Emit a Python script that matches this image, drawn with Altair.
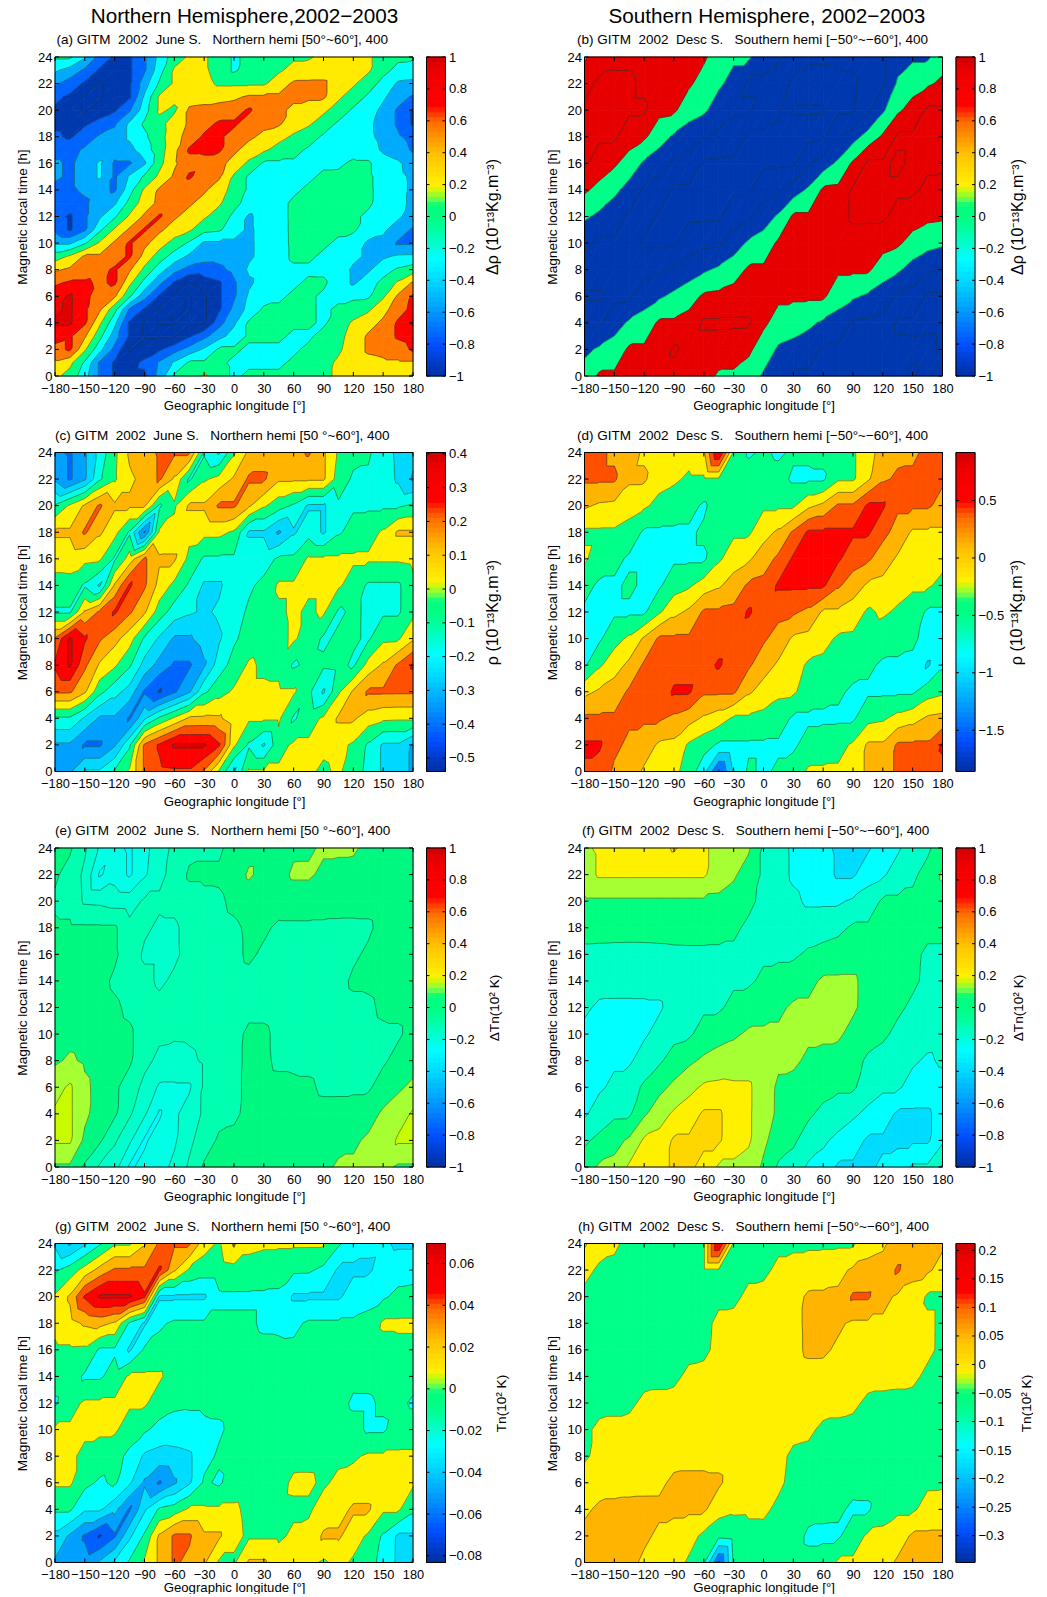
import altair as alt
import numpy as np
import pandas as pd

alt.data_transformers.disable_max_rows()

LON_TICKS = [-180, -150, -120, -90, -60, -30, 0, 30, 60, 90, 120, 150, 180]
LT_TICKS = list(range(0, 25, 2))
FONT = "Liberation Sans"

# Contour-band index read at each grid node (base-36 digit): rows run from 24 h down to 0 h,
# columns from -180 to 180 degrees in 15 degree steps.
GRID_A = ["66532 23567 76566 66677 77666", "54322 23577 76566 67777 77655", "43212 24677 76666 78887 76544",
          "32112 25777 77788 88887 65543", "22122 35768 88898 87776 55432", "22233 56678 89988 87765 55432",
          "32344 55678 99887 76655 55443", "33444 45679 99877 66555 55443", "43453 34678 88765 55555 66554",
          "43453 56789 88655 55566 66554", "33443 57888 87655 55666 66554", "33344 67888 77655 56666 66554",
          "32345 78987 76545 56666 65554", "32357 89877 66545 56666 65543", "44578 98765 44445 56665 54433",
          "67888 97654 44445 56655 54455", "78889 86543 33455 55555 44566", "89989 75421 22345 55665 45678",
          "9a988 64210 12355 56655 55689", "9a986 32110 12456 66656 66789", "aa975 21001 13466 66656 7789a",
          "99864 21112 34566 65566 78899", "89753 12234 56655 55666 78889", "77532 23456 66555 56667 77777",
          "76532 22466 76566 66667 77776"]
GRID_B = ["45555 55554 44332 22222 23334", "56665 55544 32221 11112 24445", "66666 55443 33220 00112 34566",
          "66655 43332 21111 11234 56666", "65543 32211 11111 23456 65666", "54432 21111 11223 45566 66655",
          "43322 11111 22345 55566 65555", "32221 11222 34455 55555 55444", "22222 23334 45555 55555 44332",
          "11223 34455 55555 55443 32211", "22344 55566 66544 43322 21111", "34455 56555 55433 32222 22221",
          "45555 55554 44332 22222 22124"]
GRID_C = ["21245 77888 43577 77875 55433", "21245 67864 56788 77775 44432", "56787 77457 78876 54334 44445",
          "77876 41666 66533 23434 55677", "66664 68775 44444 55666 66666", "55437 98654 33445 66666 54445",
          "44789 87544 34455 56564 54445", "8a987 64322 33455 56545 54556", "9a866 53211 24565 54555 46789",
          "88754 31012 45666 66535 78888", "44322 13567 77666 64567 76666", "22112 489aa a9643 56666 54332",
          "22445 68888 75366 66656 54332"]
GRID_D = ["77665 55559 43434 44445 66677", "77766 55444 44443 33445 67777", "65555 44434 44444 56778 87776",
          "44443 33344 44567 88888 76555", "54433 33334 55678 88877 65555", "43343 34455 67788 88765 55554",
          "33333 45677 78777 65554 54433", "33456 77777 77765 55444 44433", "34567 77778 77655 44444 33323",
          "56677 78877 76555 44433 33344", "77777 76655 44443 33334 45566", "88766 55443 33333 44456 67778",
          "77665 55430 34344 55556 67777"]
GRID_E = ["44311 01233 33444 44455 54444", "43201 01234 44454 45544 44444", "33222 23333 33444 44444 44444",
          "44444 33223 33344 33333 33444", "44444 32223 33343 33333 34444", "44443 33233 33333 33333 44444",
          "44444 33333 33333 33333 33444", "44444 43333 33344 33333 33334", "45444 43222 33344 33333 33344",
          "56544 32111 33344 44433 33445", "66544 32012 33344 44444 44556", "66443 20112 34444 44444 45566",
          "44322 01123 44444 44445 55544"]
GRID_F = ["45555 56554 44221 11000 11223", "45555 55554 43221 11001 12234", "33333 33333 33222 11122 33333",
          "33333 33333 32222 22233 33333", "22222 22222 22222 33333 33322", "22222 22222 22333 34443 33322",
          "21111 12222 33334 44443 33222", "11111 22233 34444 44433 32222", "11112 23344 44444 33332 22212",
          "11223 34455 55433 33332 22111", "12223 45566 55433 32221 10001", "23345 56666 55433 22110 00001",
          "34455 56654 44322 11000 11223"]
GRID_G = ["32345 56888 65766 66665 44433", "45678 88975 55555 55543 33444", "679aa a9333 34444 43333 44455",
          "66776 43455 55554 44555 55666", "55544 35555 55555 55555 55555", "55445 66655 55555 55555 55555",
          "45666 66555 55555 55555 44554", "66666 55444 44555 55555 54455", "66555 43333 45555 55555 56666",
          "66545 42123 54555 56656 66666", "55443 13556 66655 55566 77665", "32101 35788 77655 56677 65433",
          "22234 56787 75577 66656 55432"]
GRID_H = ["65544 44449 44444 44445 56666", "54444 44444 44455 55566 67665", "44444 44444 45555 66677 65544",
          "44444 44445 55555 66655 55554", "44444 44445 55555 66555 55554", "44444 44555 55555 55555 55544",
          "44445 55555 55555 55554 44444", "45555 55555 55555 54444 44444", "45555 55555 55554 44444 44444",
          "55555 56666 55554 44444 44444", "56666 66665 55544 44433 44455", "66666 55544 44444 33345 55666",
          "66665 55440 44444 44555 56666"]

# Fill colour of each band, by digit.
JET_ABCD = ["#0038ad", "#0064ff", "#00a0ff", "#00d8ff", "#00ffe8", "#00ff88", "#fff000", "#ffb400", "#ff5000", "#ff0000", "#e00000"]
PAL_A = ["#0038ad", "#0038ad", "#0038ad", "#0064ff", "#00aaff", "#00ffff", "#00ff88", "#ffea00", "#ff7800", "#ff0000", "#e00000"]
PAL_B = ["#0038b0", "#0038b0", "#0038b0", "#0038b0", "#00ff88", "#e60000", "#e60000", "#e60000"]
PAL_C = JET_ABCD
PAL_D = ["#0030b0", "#0078ff", "#00ccff", "#00ffff", "#00ff88", "#fff000", "#ffb400", "#ff5000", "#ff0000", "#e00000"]
PAL_E = ["#00f8ff", "#00ffe6", "#00ffcc", "#00ffb0", "#00f880", "#a5ff32", "#c8fa00"]
PAL_F = ["#00dcff", "#00ffff", "#00ffc8", "#00ff80", "#a5ff32", "#fff000", "#ffd700"]
PAL_G = ["#0038ad", "#0060ff", "#00a0ff", "#00dcff", "#00ffff", "#00ff88", "#fff000", "#ffb400", "#ff5000", "#ff0000", "#e60000"]
PAL_H = PAL_D

# Colour bar
BAR_STOPS = [0, .06, .1, .2, .3, .37, .45, .5, .535, .56, .58, .6, .7, .8, .83, .85, .95, 1]
BAR_COLORS = ["#0030a0", "#0040d8", "#0050ff", "#0096ff", "#00d8ff", "#00ffff", "#00ffaa", "#00ff80", "#00ff80",
              "#80ff40", "#c0fa10", "#fff000", "#ffc000", "#ff6800", "#ff2a00", "#ff0000", "#f00000", "#d00000"]
TICKS_UNIT = [-1, -.8, -.6, -.4, -.2, 0, .2, .4, .6, .8, 1]
TICKS_C = [-.5, -.4, -.3, -.2, -.1, 0, .1, .2, .3, .4]
TICKS_D = [-1.5, -1, -.5, 0, .5]
TICKS_G = [-.08, -.06, -.04, -.02, 0, .02, .04, .06]
TICKS_H = [-.3, -.25, -.2, -.15, -.1, -.05, 0, .05, .1, .15, .2]

W, H, BW = 358, 319, 19


def hexrgb(c):
    return [int(c[i:i + 2], 16) for i in (1, 3, 5)]


def bar_records(lo, hi, n=64):
    stops = np.array(BAR_STOPS)
    rgb = np.array([hexrgb(c) for c in BAR_COLORS])
    recs = []
    for k in range(n):
        t = (k + .5) / n
        col = [int(round(np.interp(t, stops, rgb[:, m]))) for m in range(3)]
        recs.append(dict(v=lo + (hi - lo) * k / n, v2=lo + (hi - lo) * (k + 1) / n,
                         c="#%02x%02x%02x" % tuple(col)))
    return pd.DataFrame(recs)


def clip(poly, level, keep_above):
    out = []
    for a, b in zip(poly, poly[1:] + poly[:1]):
        ina = a[2] >= level if keep_above else a[2] <= level
        inb = b[2] >= level if keep_above else b[2] <= level
        if ina:
            out.append(a)
        if ina != inb:
            t = (level - a[2]) / (b[2] - a[2])
            out.append((a[0] + t * (b[0] - a[0]), a[1] + t * (b[1] - a[1]), level))
    return out


def settle(band):
    """Place every node inside its read band so that band edges run straight between nodes."""
    v = band + .5
    for _ in range(3):
        p = np.pad(v, 1, mode="edge")
        e = p[:-2, 1:-1] + p[2:, 1:-1] + p[1:-1, :-2] + p[1:-1, 2:]
        c = p[:-2, :-2] + p[:-2, 2:] + p[2:, :-2] + p[2:, 2:]
        v = .2 * v + .13 * e + .07 * c
        v = np.clip(v, band + .15, band + .85)
    return v


def contours(rows, palette):
    rows = [r.replace(" ", "") for r in rows]
    assert all(len(r) == 25 for r in rows), [len(r) for r in rows]
    band = np.array([[int(ch, 36) for ch in r] for r in rows], dtype=float)
    val = settle(band)
    lons = np.arange(-180, 181, 15.0)
    hrs = np.linspace(24, 0, len(rows))
    groups = []
    start = 0
    for k in range(1, len(palette) + 1):
        if k == len(palette) or palette[k] != palette[start]:
            groups.append((start, k, palette[start]))
            start = k
    cells, areas, segs = [], [], []
    pid = 0
    for j in range(len(rows) - 1):
        for i in range(24):
            nw = (lons[i], hrs[j], val[j, i])
            ne = (lons[i + 1], hrs[j], val[j, i + 1])
            sw = (lons[i], hrs[j + 1], val[j + 1, i])
            se = (lons[i + 1], hrs[j + 1], val[j + 1, i + 1])
            vs = [nw[2], ne[2], sw[2], se[2]]
            if len({int(v) for v in vs}) == 1:
                cells.append(dict(x=lons[i], x2=lons[i + 1], y=hrs[j + 1], y2=hrs[j], c=palette[int(vs[0])]))
                continue
            for tri in ([sw, ne, nw], [sw, se, ne]):
                lo, hi = min(p[2] for p in tri), max(p[2] for p in tri)
                for a, b, col in groups:
                    if b <= lo or a >= hi:
                        continue
                    poly = clip(clip(tri, a, True), b, False)
                    if len(poly) < 3:
                        continue
                    xs = sorted({round(p[0], 3) for p in poly})
                    if len(xs) < 2:
                        continue
                    pid += 1
                    for x in xs:
                        ys = []
                        for p, q in zip(poly, poly[1:] + poly[:1]):
                            x0, x1 = min(p[0], q[0]), max(p[0], q[0])
                            if x0 - 1e-3 <= x <= x1 + 1e-3:
                                if abs(q[0] - p[0]) < 1e-3:
                                    ys += [p[1], q[1]]
                                else:
                                    ys.append(p[1] + (x - p[0]) / (q[0] - p[0]) * (q[1] - p[1]))
                        areas.append(dict(id=pid, x=x, y=round(min(ys), 3), y2=round(max(ys), 3), c=col))
                for lev in range(int(np.ceil(lo)), int(np.floor(hi)) + 1):
                    pts = []
                    for p, q in zip(tri, tri[1:] + tri[:1]):
                        if (p[2] - lev) * (q[2] - lev) < 0:
                            t = (lev - p[2]) / (q[2] - p[2])
                            pts.append((p[0] + t * (q[0] - p[0]), p[1] + t * (q[1] - p[1])))
                    if len(pts) == 2:
                        segs.append(dict(x=round(pts[0][0], 3), y=round(pts[0][1], 3),
                                         x2=round(pts[1][0], 3), y2=round(pts[1][1], 3)))
    return pd.DataFrame(cells), pd.DataFrame(areas), pd.DataFrame(segs)


XS = alt.Scale(domain=[-180, 180], nice=False, zero=False)
YS = alt.Scale(domain=[0, 24], nice=False, zero=False)
frame_df = pd.DataFrame({"a": [0]})


def frame(w, h):
    return alt.Chart(frame_df).mark_rect(filled=False, stroke="black", strokeWidth=1).encode(
        x=alt.value(0), x2=alt.value(w), y=alt.value(0), y2=alt.value(h))


def panel(rows, palette, title, dx, x_title_pad, heading=None):
    cells, areas, segs = contours(rows, palette)
    xaxis = alt.Axis(values=LON_TICKS, format="d", title="Geographic longitude [°]", tickSize=0, domain=False,
                     grid=False, labelOverlap=False, labelFlush=False, labelBound=False, labelPadding=6,
                     titlePadding=x_title_pad, labelFontSize=12.8, titleFontSize=13.2, labelFont=FONT, titleFont=FONT,
                     titleFontWeight="normal", labelColor="black", titleColor="black")
    yaxis = alt.Axis(values=LT_TICKS, format="d", title="Magnetic local time [h]", tickSize=0, domain=False,
                     grid=False, labelOverlap=False, labelFlush=False, labelBound=False, labelPadding=3,
                     titlePadding=8, labelFontSize=13, titleFontSize=13.6, labelFont=FONT, titleFont=FONT,
                     titleFontWeight="normal", labelColor="black", titleColor="black")
    xq = lambda f="x": alt.X(f + ":Q", scale=XS, axis=xaxis)
    yq = lambda f="y": alt.Y(f + ":Q", scale=YS, axis=yaxis)
    base = alt.Chart(cells).mark_rect(strokeWidth=.8).encode(
        x=xq(), x2="x2:Q", y=yq(), y2="y2:Q",
        color=alt.Color("c:N", scale=None), stroke=alt.Stroke("c:N", scale=None))
    fill = alt.Chart(areas).mark_area(strokeWidth=.8, orient="vertical").encode(
        x=xq(), y=yq(), y2="y2:Q", detail="id:N",
        color=alt.Color("c:N", scale=None), stroke=alt.Stroke("c:N", scale=None))
    lines = alt.Chart(segs).mark_rule(color="#1a3a30", strokeWidth=.6, opacity=.85).encode(
        x=xq(), x2="x2:Q", y=yq(), y2="y2:Q")
    lon_df = pd.DataFrame({"x": LON_TICKS})
    lt_df = pd.DataFrame({"y": LT_TICKS})
    ticks = [
        alt.Chart(lon_df).mark_rule(color="black").encode(x=xq(), y=alt.value(H), y2=alt.value(H - 4)),
        alt.Chart(lon_df).mark_rule(color="black").encode(x=xq(), y=alt.value(0), y2=alt.value(4)),
        alt.Chart(lt_df).mark_rule(color="black").encode(y=yq(), x=alt.value(0), x2=alt.value(4)),
        alt.Chart(lt_df).mark_rule(color="black").encode(y=yq(), x=alt.value(W), x2=alt.value(W - 4)),
    ]
    tdf = pd.DataFrame({"t": [title]})
    parts = [base, fill, lines] + ticks + [frame(W, H),
             alt.Chart(tdf).mark_text(font=FONT, fontSize=13.5, align="left", baseline="alphabetic",
                                      color="black").encode(text="t:N", x=alt.value(dx), y=alt.value(-13))]
    if heading:
        hdf = pd.DataFrame({"t": [heading[0]]})
        parts.append(alt.Chart(hdf).mark_text(font=FONT, fontSize=20.7, align="center", baseline="alphabetic",
                                              color="black").encode(
            text="t:N", x=alt.value(heading[1]), y=alt.value(-34)))
    return alt.layer(*parts).properties(width=W, height=H)


def colorbar(lo, hi, ticks, title, title_x, title_size):
    ys = alt.Scale(domain=[lo, hi], nice=False, zero=False)
    axis = alt.Axis(values=ticks, format="~g", title=title, orient="right", tickSize=0, domain=False, grid=False,
                    labelOverlap=False, labelFlush=False, labelBound=False, labelPadding=3, labelFontSize=13,
                    titleFontSize=title_size, labelFont=FONT, titleFont=FONT, titleFontWeight="normal",
                    labelColor="black", titleColor="black", titleAngle=270, titleX=title_x, titleY=H / 2,
                    titleBaseline="middle", titleAlign="center")
    bar = alt.Chart(bar_records(lo, hi)).mark_rect(strokeWidth=1).encode(
        x=alt.value(0), x2=alt.value(BW),
        y=alt.Y("v:Q", scale=ys, axis=axis), y2="v2:Q",
        color=alt.Color("c:N", scale=None), stroke=alt.Stroke("c:N", scale=None))
    tdf = pd.DataFrame({"v": ticks})
    t1 = alt.Chart(tdf).mark_rule(color="black").encode(
        y=alt.Y("v:Q", scale=ys, axis=axis), x=alt.value(0), x2=alt.value(3))
    t2 = alt.Chart(tdf).mark_rule(color="black").encode(
        y=alt.Y("v:Q", scale=ys, axis=axis), x=alt.value(BW), x2=alt.value(BW - 3))
    return alt.layer(bar, t1, t2, frame(BW, H)).properties(width=BW, height=H)


def spacer():
    return alt.Chart(frame_df).mark_text(text="").encode(x=alt.value(0)).properties(width=112, height=H)


NB = "\u00a0"
def ttl(s):
    return s.replace(" ", NB)


T_RHO = "ρ (10⁻¹³Kg.m⁻³)"
T_DRHO = "Δρ (10⁻¹³Kg.m⁻³)"
T_DT = "ΔTn(10² K)"
T_T = "Tn(10² K)"

charts = [
    panel(GRID_A, PAL_A, ttl("(a) GITM  2002  June S.   Northern hemi [50°~60°], 400"), 1.5, 5,
          ("Northern Hemisphere,2002−2003", 189.5)),
    colorbar(-1, 1, TICKS_UNIT, T_DRHO, 47, 16), spacer(),
    panel(GRID_B, PAL_B, ttl("(b) GITM  2002  Desc S.   Southern hemi [−50°~−60°], 400"), -7.6, 5,
          ("Southern Hemisphere, 2002−2003", 182.4)),
    colorbar(-1, 1, TICKS_UNIT, T_DRHO, 42, 16),

    panel(GRID_C, PAL_C, ttl("(c) GITM  2002  June S.   Northern hemi [50 °~60°], 400"), 0, 5),
    colorbar(-.54, .404, TICKS_C, T_RHO, 47, 16), spacer(),
    panel(GRID_D, PAL_D, ttl("(d) GITM  2002  Desc S.   Southern hemi [−50°~−60°], 400"), -7.6, 5),
    colorbar(-1.86, .919, TICKS_D, T_RHO, 41, 16),

    panel(GRID_E, PAL_E, ttl("(e) GITM  2002  June S.   Northern hemi [50 °~60°], 400"), 0, 5),
    colorbar(-1, 1, TICKS_UNIT, T_DT, 49, 13.6), spacer(),
    panel(GRID_F, PAL_F, ttl("(f) GITM  2002  Desc S.   Southern hemi [−50°~−60°], 400"), -2.6, 5),
    colorbar(-1, 1, TICKS_UNIT, T_DT, 43, 13.6),

    panel(GRID_G, PAL_G, ttl("(g) GITM  2002  June S.   Northern hemi [50 °~60°], 400"), 0, 0),
    colorbar(-.0832, .0696, TICKS_G, T_T, 55.7, 13.6), spacer(),
    panel(GRID_H, PAL_H, ttl("(h) GITM  2002  Desc S.   Southern hemi [−50°~−60°], 400"), -6.6, 0),
    colorbar(-.347, .212, TICKS_H, T_T, 51, 13.6),
]

chart = alt.concat(*charts, columns=5, bounds="flush", align="each",
                   spacing=alt.RowColnumber(row=76.5, column=13.5)).properties(
    padding={"left": 7, "top": -2, "right": 0, "bottom": 0}, background="white").configure_view(stroke=None)

chart.save("out.html", embed_options={"renderer": "svg", "actions": False})
